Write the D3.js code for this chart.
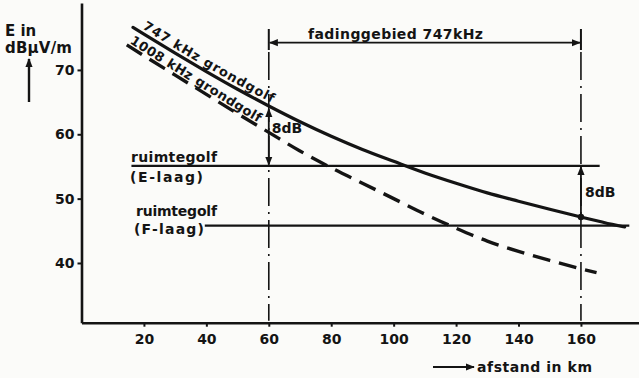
<!DOCTYPE html>
<html>
<head>
<meta charset="utf-8">
<script src="https://cdn.jsdelivr.net/npm/d3@7/dist/d3.min.js"></script>
<style>
  html, body { margin: 0; padding: 0; background: #fbfbf9; }
  svg { display: block; }
  text { font-family: "DejaVu Sans", sans-serif; font-weight: bold; fill: #141414; }
</style>
</head>
<body>
<svg id="chart" width="639" height="378"></svg>
<script>
// grondgolf 747 kHz (km, dB)
var km747 = [16.5, 20, 30, 40, 50, 60, 70, 80, 90, 100, 110, 120, 130, 140, 150, 160, 170, 174];
var db747 = [76.6, 75.55, 72.6, 69.75, 67.0, 64.4, 61.95, 59.7, 57.65, 55.8, 54.0, 52.4, 50.9, 49.6, 48.35, 47.15, 46.0, 45.6];

// grondgolf 1008 kHz
var km1008 = [14.5, 20, 30, 40, 50, 60, 70, 80, 90, 100, 110, 120, 130, 140, 150, 160, 165];
var db1008 = [73.9, 72.2, 69.2, 66.2, 63.2, 60.3, 57.4, 54.8, 52.4, 50.0, 47.6, 45.4, 43.4, 41.8, 40.4, 39.1, 38.5];

// ruimtegolf niveaus
var skyNames = ["E-laag", "F-laag"];
var skyDb = [55.1, 45.8];
var skyFrom = [16, 39.5];
var skyTo = [166, 175.5];

var fading = [60, 160];
var xTicks = [20, 40, 60, 80, 100, 120, 140, 160];
var yTicks = [40, 50, 60, 70];

var ink = "#141414";
var svg = d3.select("svg#chart");

var x = d3.scaleLinear().domain([0, 178.6]).range([81.5, 639]);
var y = d3.scaleLinear().domain([30.72, 80.4]).range([322.7, 3]);

// arrowheads
var defs = svg.append("defs");
defs.append("marker")
    .attr("id", "arr")
    .attr("viewBox", "0 0 10 10")
    .attr("refX", 9).attr("refY", 5)
    .attr("markerWidth", 9).attr("markerHeight", 9)
    .attr("markerUnits", "userSpaceOnUse")
    .attr("orient", "auto-start-reverse")
  .append("path")
    .attr("d", "M0,1 L10,5 L0,9 Z")
    .attr("fill", ink);

// axes
var xAxis = svg.append("g")
    .attr("transform", "translate(0," + y.range()[0] + ")")
    .call(d3.axisBottom(x).tickValues(xTicks).tickSize(4).tickSizeOuter(0).tickPadding(7));
var yAxis = svg.append("g")
    .attr("transform", "translate(" + x.range()[0] + ",0)")
    .call(d3.axisLeft(y).tickValues(yTicks).tickSize(4).tickSizeOuter(0).tickPadding(3));

[xAxis, yAxis].forEach(function (a) {
    a.select(".domain").attr("stroke", ink).attr("stroke-width", 2.6);
    a.selectAll(".tick line").attr("stroke", ink).attr("stroke-width", 2);
    a.selectAll(".tick text").style("font-size", "14px").attr("fill", ink)
        .style("font-family", "DejaVu Sans").style("font-weight", "bold");
});

// fading region verticals (dash-dot)
fading.forEach(function (k) {
    svg.append("line")
        .attr("x1", x(k)).attr("x2", x(k))
        .attr("y1", 52).attr("y2", y.range()[0] - 2)
        .attr("stroke", ink).attr("stroke-width", 1.6)
        .attr("stroke-dasharray", "28,6,2,6");
    svg.append("line")
        .attr("x1", x(k)).attr("x2", x(k))
        .attr("y1", 29).attr("y2", 50)
        .attr("stroke", ink).attr("stroke-width", 2);
});

svg.append("line")
    .attr("x1", x(fading[0]) + 1).attr("x2", x(fading[1]) - 1)
    .attr("y1", 42.7).attr("y2", 42.7)
    .attr("stroke", ink).attr("stroke-width", 1.8)
    .attr("marker-start", "url(#arr)")
    .attr("marker-end", "url(#arr)");

svg.append("text")
    .attr("x", 308).attr("y", 39)
    .style("font-size", "14px")
    .attr("textLength", 175).attr("lengthAdjust", "spacing")
    .text("fadinggebied  747kHz");

// ruimtegolf lines
skyNames.forEach(function (n, i) {
    svg.append("line")
        .attr("x1", x(skyFrom[i])).attr("x2", x(skyTo[i]))
        .attr("y1", y(skyDb[i])).attr("y2", y(skyDb[i]))
        .attr("stroke", ink).attr("stroke-width", 2.2);
});

svg.append("text").attr("x", 131).attr("y", 162).style("font-size", "14px")
    .attr("textLength", 86).attr("lengthAdjust", "spacing").text("ruimtegolf");
svg.append("text").attr("x", 130).attr("y", 182).style("font-size", "14px")
    .attr("textLength", 73).attr("lengthAdjust", "spacing").text("(E-laag)");
svg.append("text").attr("x", 136).attr("y", 216).style("font-size", "14px")
    .attr("textLength", 81).attr("lengthAdjust", "spacing").text("ruimtegolf");
svg.append("text").attr("x", 134).attr("y", 234).style("font-size", "14px")
    .attr("textLength", 70).attr("lengthAdjust", "spacing").text("(F-laag)");

// curves
var line = d3.line()
    .x(function (d) { return x(d[0]); })
    .y(function (d) { return y(d[1]); })
    .curve(d3.curveMonotoneX);

var pts747 = km747.map(function (k, i) { return [k, db747[i]]; });
var pts1008 = km1008.map(function (k, i) { return [k, db1008[i]]; });

svg.append("path")
    .attr("id", "c747")
    .attr("d", line(pts747))
    .attr("fill", "none").attr("stroke", ink)
    .attr("stroke-width", 3.2).attr("stroke-linecap", "round");

svg.append("path")
    .attr("id", "c1008")
    .attr("d", line(pts1008))
    .attr("fill", "none").attr("stroke", ink)
    .attr("stroke-width", 3.4)
    .attr("stroke-dasharray", "18,9");

svg.append("text")
    .attr("dy", -4)
    .style("font-size", "13px")
  .append("textPath")
    .attr("href", "#c747")
    .attr("startOffset", 8)
    .attr("textLength", 150).attr("lengthAdjust", "spacing")
    .text("747 kHz grondgolf");

svg.append("text")
    .attr("dy", -3)
    .style("font-size", "13px")
  .append("textPath")
    .attr("href", "#c1008")
    .attr("startOffset", 1)
    .attr("textLength", 152).attr("lengthAdjust", "spacing")
    .text("1008 kHz grondgolf");

// 8 dB arrows
var at60 = db747[km747.indexOf(60)];
svg.append("line")
    .attr("x1", x(60)).attr("x2", x(60))
    .attr("y1", y(at60) + 3).attr("y2", y(skyDb[0]) - 1)
    .attr("stroke", ink).attr("stroke-width", 1.8)
    .attr("marker-start", "url(#arr)")
    .attr("marker-end", "url(#arr)");
svg.append("text").attr("x", x(60) + 3).attr("y", 133)
    .style("font-size", "14px").text("8dB");

var at160 = db747[km747.indexOf(160)];
svg.append("line")
    .attr("x1", x(160)).attr("x2", x(160))
    .attr("y1", y(at160)).attr("y2", y(skyDb[0]) + 1)
    .attr("stroke", ink).attr("stroke-width", 1.8)
    .attr("marker-end", "url(#arr)");
svg.append("circle")
    .attr("cx", x(160)).attr("cy", y(at160)).attr("r", 3.2)
    .attr("fill", ink);
svg.append("text").attr("x", x(160) + 4).attr("y", 197)
    .style("font-size", "14px").text("8dB");

// axis titles
svg.append("text").attr("x", 5).attr("y", 36).style("font-size", "15px").text("E in");
svg.append("text").attr("x", 5).attr("y", 53).style("font-size", "15px")
    .attr("textLength", 67).attr("lengthAdjust", "spacing").text("dBμV/m");
svg.append("line")
    .attr("x1", 29).attr("x2", 29).attr("y1", 102).attr("y2", 59)
    .attr("stroke", ink).attr("stroke-width", 2.4)
    .attr("marker-end", "url(#arr)");

svg.append("line")
    .attr("x1", 433).attr("x2", 474).attr("y1", 367).attr("y2", 367)
    .attr("stroke", ink).attr("stroke-width", 2)
    .attr("marker-end", "url(#arr)");
svg.append("text").attr("x", 477).attr("y", 372).style("font-size", "14px")
    .attr("textLength", 115).attr("lengthAdjust", "spacing").text("afstand in  km");
</script>
</body>
</html>
